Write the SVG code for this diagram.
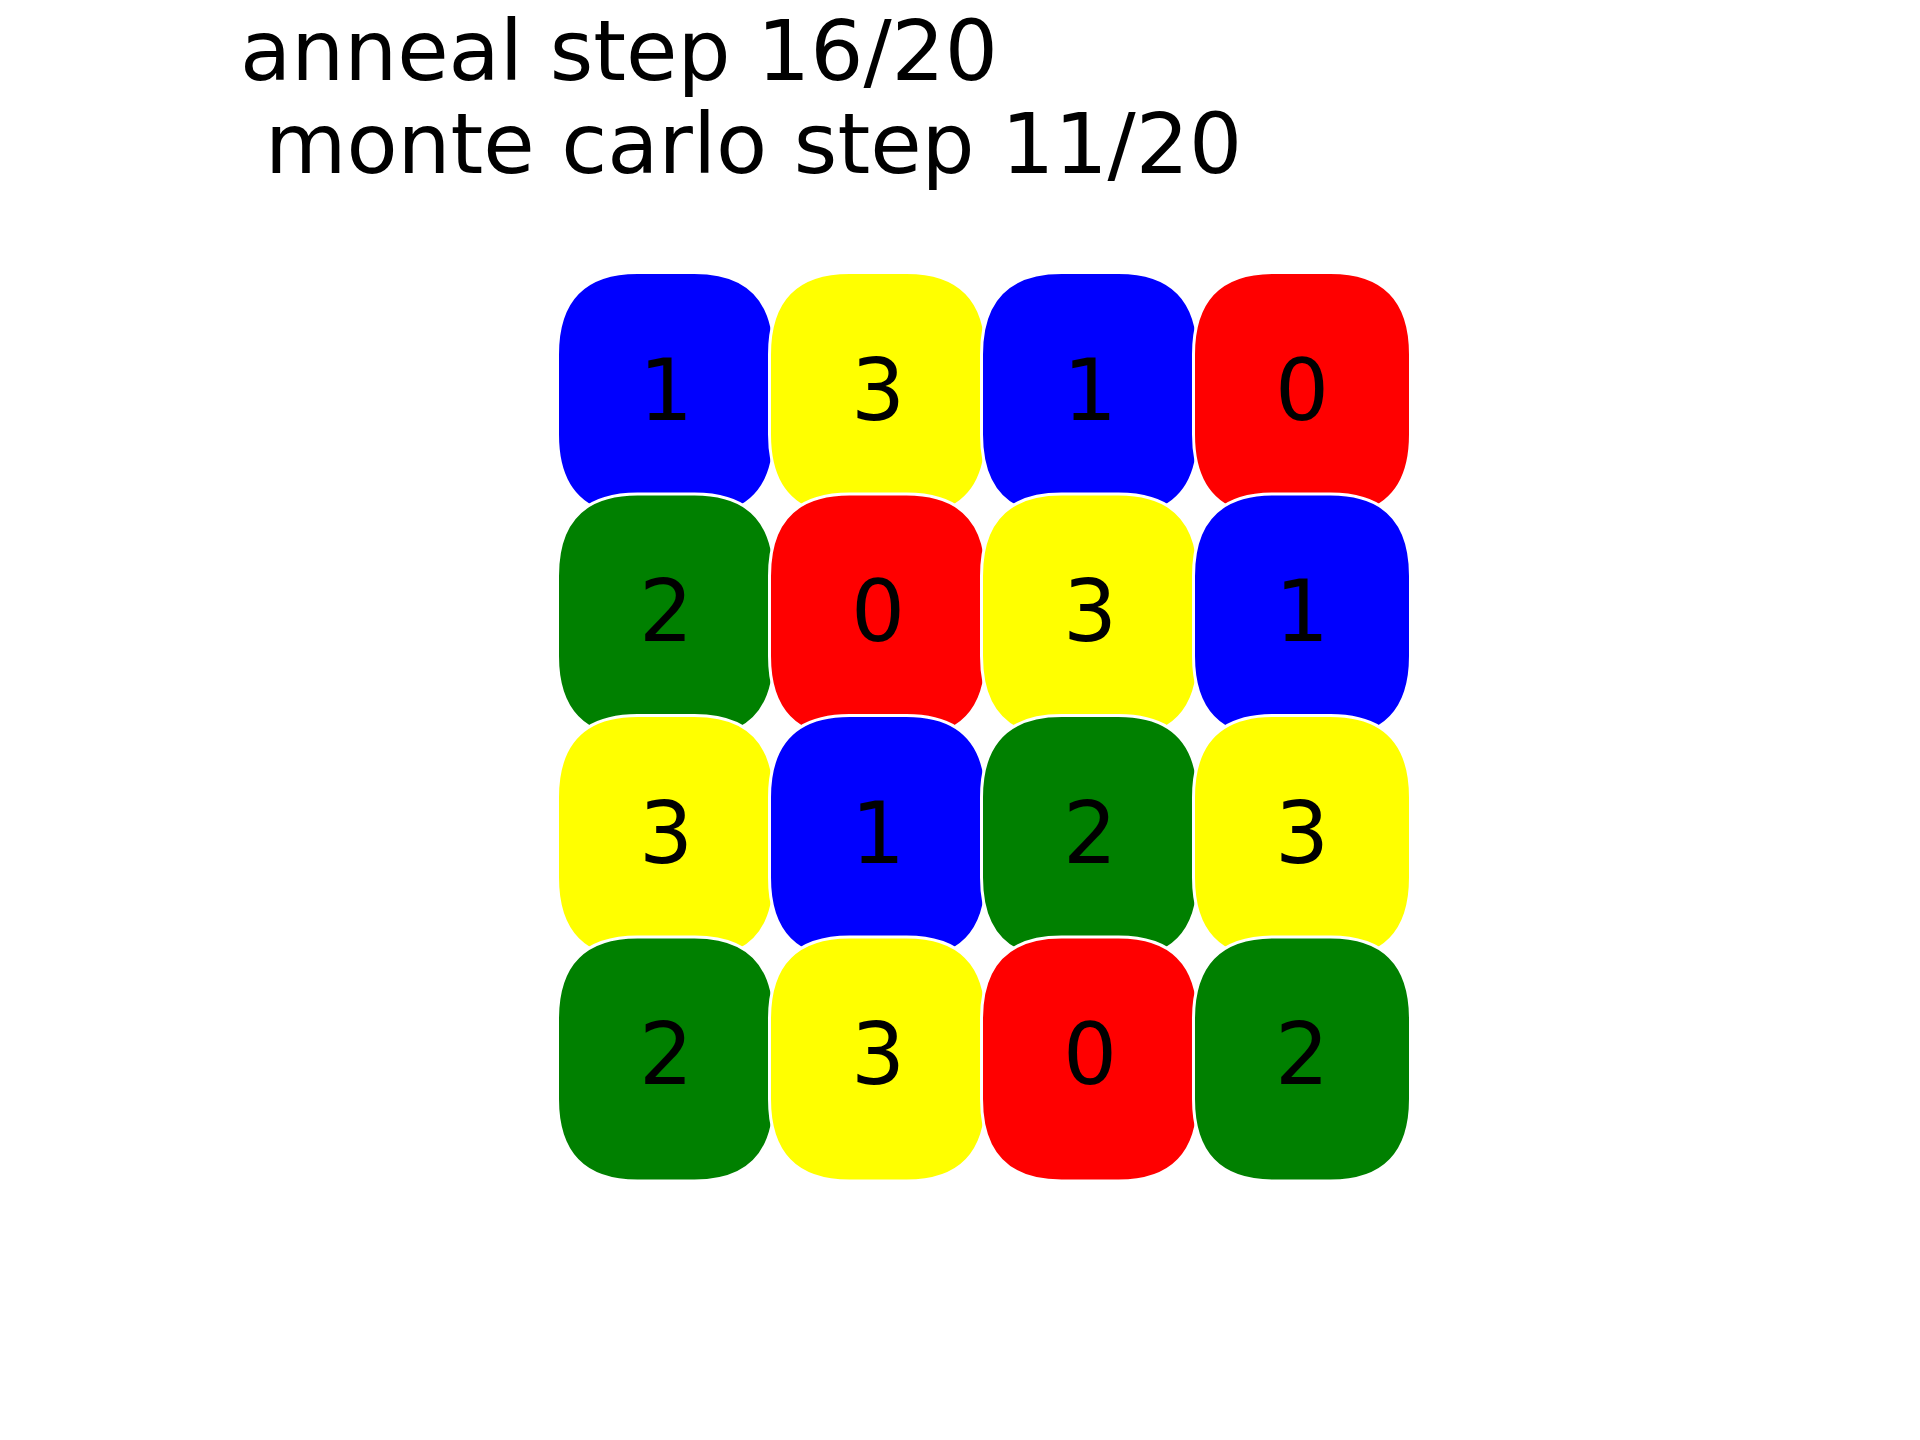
<svg xmlns="http://www.w3.org/2000/svg" xmlns:xlink="http://www.w3.org/1999/xlink" width="1920" height="1440" viewBox="0 0 1920 1440">
<style>
.title{font-family:"DejaVu Sans","Liberation Sans",sans-serif;font-size:83.6px;fill:#000}
.num{font-family:"DejaVu Sans","Liberation Sans",sans-serif;font-size:85px;fill:#000;text-anchor:middle}
.tile{stroke:#fff;stroke-width:3}
.c0{fill:#ff0000}.c1{fill:#0000ff}.c2{fill:#008000}.c3{fill:#ffff00}
</style>
<defs>
<path id="tileShape" d="M80,0 H137 Q217,0 217,82 V162 Q217,244 137,244 H80 Q0,244 0,162 V82 Q0,0 80,0 Z"/>
</defs>
<rect width="1920" height="1440" fill="#fff"/>
<g id="title">
<text class="title" x="240" y="80">anneal step 16/20</text>
<text class="title" x="265" y="173">monte carlo step 11/20</text>
</g>
<g id="connectors"></g>
<g id="n-0-0" transform="translate(557.5,272.5)"><use href="#tileShape" class="tile c1"/><text class="num" x="108.5" y="147">1</text></g>
<g id="n-0-1" transform="translate(769.5,272.5)"><use href="#tileShape" class="tile c3"/><text class="num" x="108.5" y="147">3</text></g>
<g id="n-0-2" transform="translate(981.5,272.5)"><use href="#tileShape" class="tile c1"/><text class="num" x="108.5" y="147">1</text></g>
<g id="n-0-3" transform="translate(1193.5,272.5)"><use href="#tileShape" class="tile c0"/><text class="num" x="108.5" y="147">0</text></g>
<g id="n-1-0" transform="translate(557.5,494)"><use href="#tileShape" class="tile c2"/><text class="num" x="108.5" y="147">2</text></g>
<g id="n-1-1" transform="translate(769.5,494)"><use href="#tileShape" class="tile c0"/><text class="num" x="108.5" y="147">0</text></g>
<g id="n-1-2" transform="translate(981.5,494)"><use href="#tileShape" class="tile c3"/><text class="num" x="108.5" y="147">3</text></g>
<g id="n-1-3" transform="translate(1193.5,494)"><use href="#tileShape" class="tile c1"/><text class="num" x="108.5" y="147">1</text></g>
<g id="n-2-0" transform="translate(557.5,715.5)"><use href="#tileShape" class="tile c3"/><text class="num" x="108.5" y="147">3</text></g>
<g id="n-2-1" transform="translate(769.5,715.5)"><use href="#tileShape" class="tile c1"/><text class="num" x="108.5" y="147">1</text></g>
<g id="n-2-2" transform="translate(981.5,715.5)"><use href="#tileShape" class="tile c2"/><text class="num" x="108.5" y="147">2</text></g>
<g id="n-2-3" transform="translate(1193.5,715.5)"><use href="#tileShape" class="tile c3"/><text class="num" x="108.5" y="147">3</text></g>
<g id="n-3-0" transform="translate(557.5,937)"><use href="#tileShape" class="tile c2"/><text class="num" x="108.5" y="147">2</text></g>
<g id="n-3-1" transform="translate(769.5,937)"><use href="#tileShape" class="tile c3"/><text class="num" x="108.5" y="147">3</text></g>
<g id="n-3-2" transform="translate(981.5,937)"><use href="#tileShape" class="tile c0"/><text class="num" x="108.5" y="147">0</text></g>
<g id="n-3-3" transform="translate(1193.5,937)"><use href="#tileShape" class="tile c2"/><text class="num" x="108.5" y="147">2</text></g>
</svg>
